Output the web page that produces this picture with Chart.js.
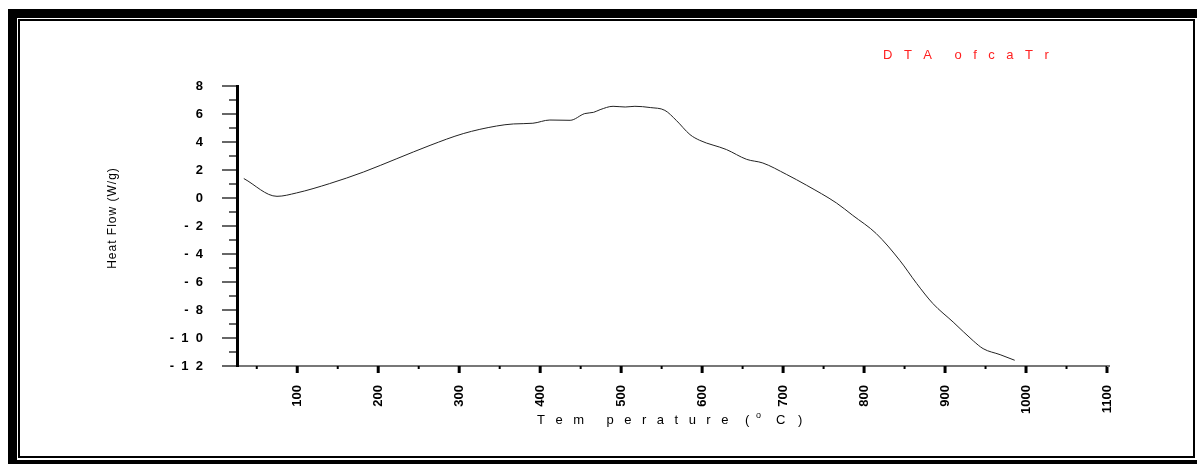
<!DOCTYPE html>
<html>
<head>
<meta charset="utf-8">
<script src="https://cdn.jsdelivr.net/npm/chart.js@4.4.1/dist/chart.umd.min.js"></script>
<style>
   body { margin:0; width:1197px; height:464px; overflow:hidden; background:#fff; position:relative; }
   .outer { position:absolute; left:8px; top:9px; width:1300px; height:460px; box-sizing:border-box;
            border-top:9px solid #000; border-left:9px solid #000; border-bottom:9px solid #000; }
   .inner { position:absolute; left:18px; top:19px; width:1177px; height:439px; box-sizing:border-box;
            border:2px solid #000; }
   canvas { position:absolute; left:0; top:0; }
</style>
</head>
<body>
<div class="outer"></div>
<div class="inner"></div>
<canvas id="dta" width="1197" height="464"></canvas>
<script>

/* data kurva DTA */
let temps = [34, 75, 99, 140, 182, 223, 264, 305, 346, 367, 391, 412, 437, 455, 466,
   474, 490, 505, 517, 536, 554, 568, 585, 597, 630, 655, 675, 704, 729,
   766, 786, 815, 844, 865, 885, 910, 935, 947, 968, 986];
let heatFlow = [1.39, 0.12, 0.36, 1.03, 1.86, 2.81, 3.76, 4.6, 5.14, 5.29, 5.34, 5.57, 5.55, 6.03, 6.12,
   6.31, 6.55, 6.5, 6.55, 6.46, 6.26, 5.55, 4.53, 4.12, 3.46, 2.76, 2.5, 1.69, 0.91,
   -0.36, -1.24, -2.54, -4.45, -6.11, -7.54, -8.86, -10.21, -10.76, -11.19, -11.59];

let xTicks = [100, 200, 300, 400, 500, 600, 700, 800, 900, 1000, 1100];
let xMinorTicks = [50, 150, 250, 350, 450, 550, 650, 750, 850, 950, 1050];
let yTicks = [8, 6, 4, 2, 0, -2, -4, -6, -8, -10, -12];

function yLabel(v){

   if(v >= 0) return String(v);

   let d = String(-v).split("");

   return "-  " + d.join("  ");

}

function drawSpaced(ctx, text, x, y, spacing, spaceAdv){

   for(let ch of text){

      if(ch === " "){ x += spaceAdv; continue; }

      ctx.fillText(ch, x, y);
      x += ctx.measureText(ch).width + spacing;

   }

}

/* tick kecil + judul */
let decorPlugin = {

   id: "decor",

   afterDraw(chart){

      let ctx = chart.ctx;
      let xs = chart.scales.x;
      let ys = chart.scales.y;
      let left = chart.chartArea.left;
      let bottom = chart.chartArea.bottom;

      ctx.save();

      /* tick sumbu y */
      ctx.strokeStyle = "#666";
      ctx.lineWidth = 2;

      for(let v = -12; v <= 8; v++){

         let py = ys.getPixelForValue(v);
         let len = (v % 2 === 0) ? 15 : 8;

         ctx.beginPath();
         ctx.moveTo(left - len, py);
         ctx.lineTo(left - 1, py);
         ctx.stroke();

      }

      /* tick sumbu x */
      ctx.strokeStyle = "#000";

      xTicks.forEach(function(v){

         let px = xs.getPixelForValue(v);

         ctx.lineWidth = 3;
         ctx.beginPath();
         ctx.moveTo(px, bottom);
         ctx.lineTo(px, bottom + 7);
         ctx.stroke();

      });

      xMinorTicks.forEach(function(v){

         let px = xs.getPixelForValue(v);

         ctx.lineWidth = 2;
         ctx.beginPath();
         ctx.moveTo(px, bottom);
         ctx.lineTo(px, bottom + 3);
         ctx.stroke();

      });

      /* garis sumbu x sedikit lewat 1100 */
      ctx.strokeStyle = "#777";
      ctx.lineWidth = 2;
      ctx.beginPath();
      ctx.moveTo(chart.chartArea.right, bottom);
      ctx.lineTo(chart.chartArea.right + 3, bottom);
      ctx.stroke();

      /* judul sumbu x */
      ctx.fillStyle = "#000";
      ctx.textBaseline = "middle";
      ctx.textAlign = "left";
      ctx.font = "13px Arial, 'Liberation Sans'";
      drawSpaced(ctx, "Tem perature", 537, 420, 10.5, 12);
      ctx.fillText("(", 745, 420);
      ctx.fillText("C", 776, 420);
      ctx.fillText(")", 798, 420);
      ctx.font = "9px Arial, 'Liberation Sans'";
      ctx.fillText("o", 756, 416);

      /* judul sumbu y */
      ctx.save();
      ctx.translate(113, 218);
      ctx.rotate(-Math.PI / 2);
      ctx.font = "12px Arial, 'Liberation Sans'";
      ctx.textAlign = "center";
      ctx.letterSpacing = "1px";
      ctx.fillText("Heat Flow (W/g)", 0, 0);
      ctx.restore();

      /* judul grafik */
      ctx.fillStyle = "#ff2020";
      ctx.font = "13px Arial, 'Liberation Sans'";
      ctx.textAlign = "left";
      drawSpaced(ctx, "DTA ofcaTr", 883, 55, 11.5, 11);

      ctx.restore();

   }

};

let ctx = document.getElementById("dta").getContext("2d");

new Chart(ctx, {

   type: "line",

   data: {

      datasets: [{

         data: temps.map((t, i) => ({ x: t, y: heatFlow[i] })),

         borderColor: "#222",
         borderWidth: 1,
         pointRadius: 0,
         fill: false,
         cubicInterpolationMode: "monotone"

      }]

   },

   options: {

      responsive: false,
      animation: false,
      events: [],

      layout: {
         padding: { left: 0, top: 86, right: 90, bottom: 0 }
      },

      plugins: {
         legend: { display: false },
         tooltip: { enabled: false }
      },

      scales: {

         x: {

            type: "linear",
            min: 25.6,
            max: 1100,

            afterBuildTicks: function(scale){
               scale.ticks = xTicks.map(v => ({ value: v }));
            },

            afterFit: function(scale){
               scale.height = 98;
            },

            grid: { display: false, drawTicks: false },
            border: { display: true, color: "#777", width: 2 },

            ticks: {
               autoSkip: false,
               maxRotation: 90,
               minRotation: 90,
               padding: 19,
               color: "#000",
               font: { family: "Arial, 'Liberation Sans'", size: 13, weight: "bold" },
               callback: function(v){ return String(v); }
            }

         },

         y: {

            min: -12,
            max: 8,

            afterBuildTicks: function(scale){
               scale.ticks = yTicks.map(v => ({ value: v }));
            },

            afterFit: function(scale){
               scale.width = 237;
            },

            grid: { display: false, drawTicks: false },
            border: { display: true, color: "#000", width: 3 },

            ticks: {
               padding: 34,
               color: "#000",
               font: { family: "Arial, 'Liberation Sans'", size: 13, weight: "bold" },
               callback: function(v){ return yLabel(v); }
            }

         }

      }

   },

   plugins: [decorPlugin]

});

</script>
</body>
</html>
